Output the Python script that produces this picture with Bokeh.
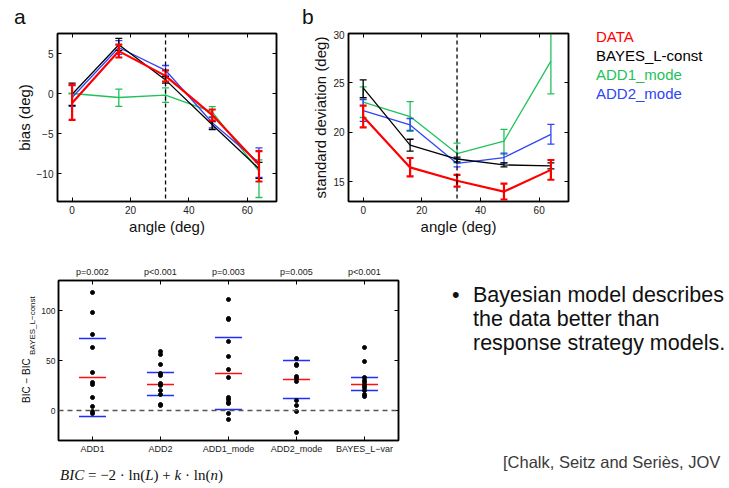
from bokeh.plotting import figure
from bokeh.layouts import row, column
from bokeh.models import Range1d, FixedTicker, LinearAxis, Span, ColumnDataSource, Div
from bokeh.embed import file_html
from bokeh.resources import INLINE

FONT = "Liberation Sans"

# ---------------- data ----------------
ANGLES = [0, 16, 32, 48, 64]
SPLIT_ANGLE = 32
SERIES = ["DATA", "BAYES_L-const", "ADD1_mode", "ADD2_mode"]

# panel a: bias (deg)
BIAS_DATA = [-1.2, 5.3, 2.2, -2.7, -8.9]
BIAS_DATA_LO = [-3.3, 4.5, 1.5, -3.4, -11.0]
BIAS_DATA_HI = [1.1, 6.1, 2.9, -2.0, -7.2]
BIAS_BAYES = [-0.1, 6.1, 1.7, -3.9, -9.4]
BIAS_BAYES_LO = [-1.5, 5.4, 1.3, -4.5, -10.6]
BIAS_BAYES_HI = [1.3, 6.9, 2.1, -3.5, -8.6]
BIAS_ADD1 = [0.0, -0.5, -0.2, -2.3, -9.7]
BIAS_ADD1_LO = [0.0, -1.6, -1.1, -2.9, -13.0]
BIAS_ADD1_HI = [0.0, 0.55, 0.7, -1.65, -8.3]
BIAS_ADD2 = [-0.5, 5.75, 2.9, -3.65, -8.65]
BIAS_ADD2_LO = [-1.6, 4.9, 2.3, -4.3, -10.5]
BIAS_ADD2_HI = [1.0, 6.6, 3.5, -3.0, -6.8]

# panel b: standard deviation (deg)
SD_DATA = [21.6, 16.45, 15.1, 14.0, 16.2]
SD_DATA_LO = [20.5, 15.55, 14.5, 13.2, 15.2]
SD_DATA_HI = [22.7, 17.4, 15.7, 14.8, 17.2]
SD_BAYES = [24.5, 18.7, 17.3, 16.7, 16.6]
SD_BAYES_LO = [23.5, 18.1, 17.0, 16.5, 16.3]
SD_BAYES_HI = [25.3, 19.3, 17.5, 16.9, 16.9]
SD_ADD1 = [23.05, 21.6, 17.85, 19.1, 27.2]
SD_ADD1_LO = [21.5, 20.1, 16.9, 17.8, 23.9]
SD_ADD1_HI = [24.6, 23.1, 18.9, 20.3, 31.0]
SD_ADD2 = [22.2, 20.75, 16.85, 17.45, 19.8]
SD_ADD2_LO = [21.1, 20.2, 16.5, 16.9, 18.8]
SD_ADD2_HI = [23.3, 21.4, 17.3, 17.9, 20.8]

# bottom panel: BIC differences
MODELS = ["ADD1", "ADD2", "ADD1_mode", "ADD2_mode", "BAYES_L\u2212var"]
P_VALUES = ["p=0.002", "p<0.001", "p=0.003", "p=0.005", "p<0.001"]
BIC_ADD1 = [118, 98, 76, 63, 38, 28, 26, 13, 4, -1, -3]
BIC_ADD2 = [59, 56, 46, 37, 35, 27, 25, 20, 16, 6, 5]
BIC_ADD1_MODE = [111, 92, 91, 69, 54, 41, 33, 13, 11, 8, 7, -3, -9]
BIC_ADD2_MODE = [52, 46, 45, 34, 32, 29, 10, 5, -1, -22]
BIC_BAYES_VAR = [63, 49, 33, 30, 28, 25, 23, 20, 16, 14]
BIC_MEAN = [33, 26, 37, 31, 26]
BIC_CI_HI = [72, 38, 73, 50, 33]
BIC_CI_LO = [-6, 15, 1, 12, 20]

BULLET_LINES = ["Bayesian model describes", "the data better than", "response strategy models."]
CITATION = "[Chalk, Seitz and Seri\u00e8s, JOV"
FORMULA = ("<i>BIC</i> = \u22122 \u00b7 ln(<i>L</i>) + <i>k</i> \u00b7 ln(<i>n</i>)")

COLORS = {"DATA": "#ff0000", "BAYES_L-const": "#000000",
          "ADD1_mode": "#1ec25a", "ADD2_mode": "#2f45f5"}
WIDTHS = {"DATA": 2.2, "BAYES_L-const": 1.3, "ADD1_mode": 1.3, "ADD2_mode": 1.3}


def style_axis(ax, size="10px"):
    ax.axis_line_color = "black"
    ax.axis_line_width = 1.5
    ax.major_tick_line_color = "black"
    ax.major_tick_line_width = 1
    ax.major_tick_in = 4
    ax.major_tick_out = 0
    ax.minor_tick_line_color = None
    ax.major_label_text_font = FONT
    ax.major_label_text_font_size = size
    ax.major_label_text_color = "#222222"
    ax.axis_label_text_font = FONT
    ax.axis_label_text_font_style = "normal"
    ax.axis_label_text_color = "#111111"


def hide_labels(ax):
    ax.major_label_text_color = None
    ax.major_label_text_font_size = "1px"
    ax.major_label_standoff = 0


def boxed(p, xticks, yticks, size="10px", top_labels=None):
    p.grid.visible = False
    p.outline_line_color = "black"
    p.outline_line_width = 1.5
    p.below[0].ticker = FixedTicker(ticks=xticks)
    p.left[0].ticker = FixedTicker(ticks=yticks)
    style_axis(p.below[0], size)
    style_axis(p.left[0], size)
    top = LinearAxis(ticker=FixedTicker(ticks=xticks))
    style_axis(top, size)
    if top_labels is None:
        hide_labels(top)
    else:
        top.major_label_overrides = top_labels
        top.major_label_standoff = 4
    p.add_layout(top, "above")
    right = LinearAxis(ticker=FixedTicker(ticks=yticks))
    style_axis(right, size)
    hide_labels(right)
    p.add_layout(right, "right")


def draw_series(p, y, lo, hi, name):
    c, w = COLORS[name], WIDTHS[name]
    src = ColumnDataSource(dict(x=ANGLES, y=y, lo=lo, hi=hi))
    p.line("x", "y", source=src, line_color=c, line_width=w)
    p.segment(x0="x", y0="lo", x1="x", y1="hi", source=src, line_color=c, line_width=w)
    p.scatter("x", "lo", source=src, marker="dash", size=7, line_color=c, line_width=w)
    p.scatter("x", "hi", source=src, marker="dash", size=7, line_color=c, line_width=w)


def base_fig(w, h, xr, yr, **kw):
    return figure(width=w, height=h, x_range=xr, y_range=yr, output_backend="svg",
                  toolbar_location=None, background_fill_color="white",
                  border_fill_color="white", **kw)


def txt(left, top, text, size, color="#111111", lh=None, extra="", font=FONT):
    lh = lh or size
    return (f'<div style="position:absolute;left:{left}px;top:{top}px;font-family:\'{font}\';'
            f'font-size:{size}px;line-height:{lh}px;white-space:nowrap;color:{color};{extra}">'
            f'{text}</div>')


def box_div(w, h, inner):
    html = (f'<div style="position:relative;width:{w}px;height:{h}px;overflow:hidden;">'
            f'{inner}</div>')
    return Div(text=html, width=w, height=h, styles={"overflow": "hidden", "margin": "0"})


# ---------------- panel letters strip ----------------
strip = box_div(580, 30, txt(14, 5, "a", 21, lh=24) + txt(302, 5, "b", 21, lh=24))

# ---------------- panel a ----------------
pa = base_fig(300, 214, Range1d(-5, 70), Range1d(-13.5, 7.5),
              min_border_left=57, min_border_right=24, min_border_top=3, min_border_bottom=43)
boxed(pa, [0, 20, 40, 60], [-10, -5, 0, 5])
pa.left[0].major_label_overrides = {-10: "\u221210", -5: "\u22125"}
pa.below[0].axis_label = "angle (deg)"
pa.left[0].axis_label = "bias (deg)"
for ax in [pa.below[0], pa.left[0]]:
    ax.major_label_standoff = 4
    ax.axis_label_standoff = 1
pa.below[0].axis_label_text_font_size = "15px"
pa.left[0].axis_label_text_font_size = "15px"
pa.add_layout(Span(location=SPLIT_ANGLE, dimension="height", line_color="black",
                   line_dash="4 3", line_width=1.3))
draw_series(pa, BIAS_ADD1, BIAS_ADD1_LO, BIAS_ADD1_HI, "ADD1_mode")
draw_series(pa, BIAS_ADD2, BIAS_ADD2_LO, BIAS_ADD2_HI, "ADD2_mode")
draw_series(pa, BIAS_BAYES, BIAS_BAYES_LO, BIAS_BAYES_HI, "BAYES_L-const")
draw_series(pa, BIAS_DATA, BIAS_DATA_LO, BIAS_DATA_HI, "DATA")

# ---------------- panel b ----------------
pb = base_fig(280, 214, Range1d(-5, 70), Range1d(13, 30),
              min_border_left=48, min_border_right=12, min_border_top=3, min_border_bottom=43)
boxed(pb, [0, 20, 40, 60], [15, 20, 25, 30])
pb.below[0].axis_label = "angle (deg)"
pb.left[0].axis_label = "standard deviation (deg)"
for ax in [pb.below[0], pb.left[0]]:
    ax.major_label_standoff = 4
    ax.axis_label_standoff = 1
pb.below[0].axis_label_text_font_size = "15px"
pb.left[0].axis_label_text_font_size = "15px"
pb.add_layout(Span(location=SPLIT_ANGLE, dimension="height", line_color="black",
                   line_dash="4 3", line_width=1.3))
draw_series(pb, SD_ADD1, SD_ADD1_LO, SD_ADD1_HI, "ADD1_mode")
draw_series(pb, SD_ADD2, SD_ADD2_LO, SD_ADD2_HI, "ADD2_mode")
draw_series(pb, SD_BAYES, SD_BAYES_LO, SD_BAYES_HI, "BAYES_L-const")
draw_series(pb, SD_DATA, SD_DATA_LO, SD_DATA_HI, "DATA")

# ---------------- legend ----------------
legend_html = "".join(txt(16, 28 + 19 * i, s, 15, color=COLORS[s], lh=18)
                      for i, s in enumerate(SERIES))
pl = box_div(147, 244, legend_html)

# ---------------- bottom panel ----------------
pos = list(range(1, len(MODELS) + 1))
pc = base_fig(392, 222, Range1d(0.5, 5.5), Range1d(-30, 130),
              min_border_left=19, min_border_right=32, min_border_top=36, min_border_bottom=26)
boxed(pc, pos, [0, 50, 100], size="9px",
      top_labels={i: s for i, s in zip(pos, P_VALUES)})
pc.left[0].major_label_text_font_size = "8.5px"
pc.below[0].major_label_overrides = {i: s for i, s in zip(pos, MODELS)}
pc.below[0].major_label_standoff = 3
pc.left[0].major_label_standoff = 3
pc.add_layout(Span(location=0, dimension="width", line_color="#555555",
                   line_dash="5 4", line_width=1.6))
all_bic = [BIC_ADD1, BIC_ADD2, BIC_ADD1_MODE, BIC_ADD2_MODE, BIC_BAYES_VAR]
xs, ys = [], []
for i, vals in zip(pos, all_bic):
    xs += [i] * len(vals)
    ys += vals
pc.scatter(x=pos, y=BIC_CI_HI, marker="dash", size=27, line_color="#1f2fff", line_width=1.5)
pc.scatter(x=pos, y=BIC_CI_LO, marker="dash", size=27, line_color="#1f2fff", line_width=1.5)
pc.scatter(x=pos, y=BIC_MEAN, marker="dash", size=27, line_color="#ff1010", line_width=1.5)
pc.scatter(x=xs, y=ys, size=4, color="black")

# formula under the bottom panel
formula = box_div(392, 20, txt(22, 1, FORMULA, 15, lh=17, font="Liberation Serif"))

# y label of the bottom panel (rotated, with subscript)
rot = "transform:rotate(-90deg);transform-origin:left top;"
ylab = box_div(38, 242,
               txt(21, 159, "BIC \u2212 BIC", 10, lh=12, extra=rot) +
               txt(28, 111, "BAYES_L\u2212const", 8, lh=10, extra=rot))

# ---------------- text block ----------------
text_html = txt(22, 38.5, "\u2022", 21.5, lh=24)
text_html += txt(43, 38.5, "<br>".join(BULLET_LINES), 21.5, lh=24)
text_html += txt(73, 208.5, CITATION, 16.5, color="#3a3a3a", lh=19)
pt = box_div(297, 242, text_html)

layout = column(row(column(strip, row(pa, pb)), pl),
                row(ylab, column(pc, formula), pt))
open("out.html", "w").write(file_html(layout, INLINE))
